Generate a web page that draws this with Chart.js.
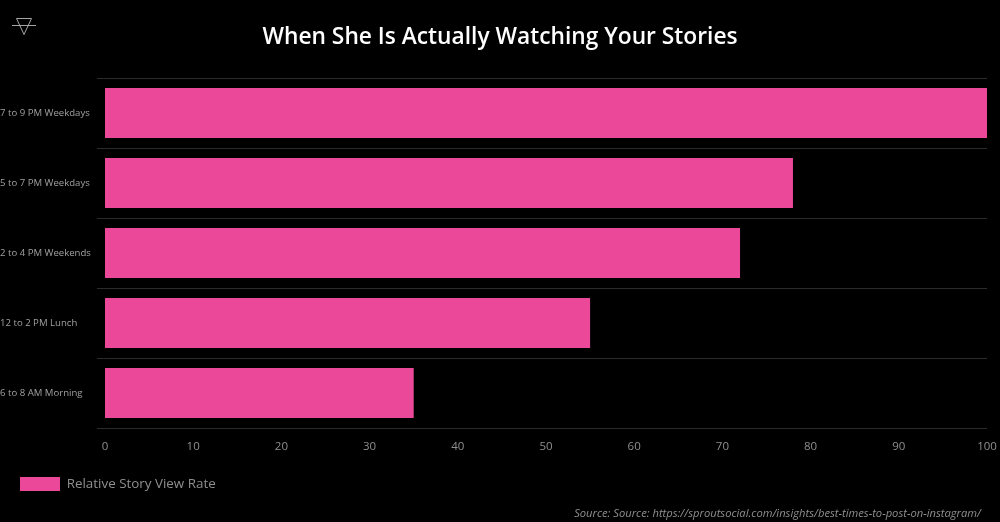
<!DOCTYPE html>
<html>
<head>
<meta charset="utf-8">
<script src="https://cdn.jsdelivr.net/npm/chart.js@4"></script>
<style>
  html, body { margin: 0; padding: 0; background: #000; }
  #box { position: relative; width: 1000px; height: 522px; }
  #logo { position: absolute; left: 12px; top: 17px; }
  #fonte { position: absolute; right: 19px; top: 505px; color: #8f8f8f; font: italic 11.2px/16px "Open Sans", "Noto Sans", sans-serif; white-space: nowrap; }
</style>
</head>
<body>
<div id="box">
  <canvas id="grafico" width="1000" height="522"></canvas>
  <svg id="logo" width="24" height="19" viewBox="0 0 24 19">
    <path d="M4.5 1.5 H19.5 L12 17.5 Z M0 8.5 H24" fill="none" stroke="#b5b5b5" stroke-width="0.9"/>
  </svg>
  <div id="fonte"></div>
</div>
<script>
const categorias = ['7 to 9 PM Weekdays', '5 to 7 PM Weekdays', '2 to 4 PM Weekends', '12 to 2 PM Lunch', '6 to 8 AM Morning'];
const valores = [100, 78, 72, 55, 35];
const nomeSerie = 'Relative Story View Rate';
const titulo = 'When She Is Actually Watching Your Stories';
const fonte = 'Source: Source: https://sproutsocial.com/insights/best-times-to-post-on-instagram/';

const familia = '"Open Sans", "Noto Sans", sans-serif';

document.getElementById('fonte').textContent = fonte;

new Chart(document.getElementById('grafico').getContext('2d'), {
  type: 'bar',
  data: {
    labels: categorias,
    datasets: [{
      label: nomeSerie,
      data: valores,
      backgroundColor: '#ec4899',
      barPercentage: 0.714,
      categoryPercentage: 1
    }]
  },
  options: {
    indexAxis: 'y',
    responsive: false,
    animation: false,
    layout: { padding: { left: 0, right: 0, top: 0, bottom: 21 } },
    scales: {
      x: {
        min: 0,
        max: 100,
        grid: { display: false },
        border: { display: false },
        ticks: { stepSize: 10, color: '#8f8f8f', maxRotation: 0, font: { family: familia, size: 11.5 }, padding: 4 },
        afterFit: scale => { scale.height = 29; scale.paddingRight = 13; }
      },
      y: {
        grid: { color: '#2b2b2b', lineWidth: 1, tickLength: 8 },
        border: { display: false },
        ticks: { color: '#a0a0a0', crossAlign: 'far', font: { family: familia, size: 9.6 } },
        afterFit: scale => { scale.width = 105; }
      }
    },
    plugins: {
      title: {
        display: true,
        text: titulo,
        color: '#ffffff',
        font: { family: familia, size: 22.75, weight: '600' },
        padding: { top: 24, bottom: 26.7 }
      },
      legend: {
        position: 'bottom',
        align: 'start',
        labels: {
          boxWidth: 40,
          boxHeight: 14,
          padding: 20,
          color: '#8f8f8f',
          font: { family: familia, size: 13.4 }
        }
      },
      tooltip: { enabled: false }
    }
  }
});
</script>
</body>
</html>
